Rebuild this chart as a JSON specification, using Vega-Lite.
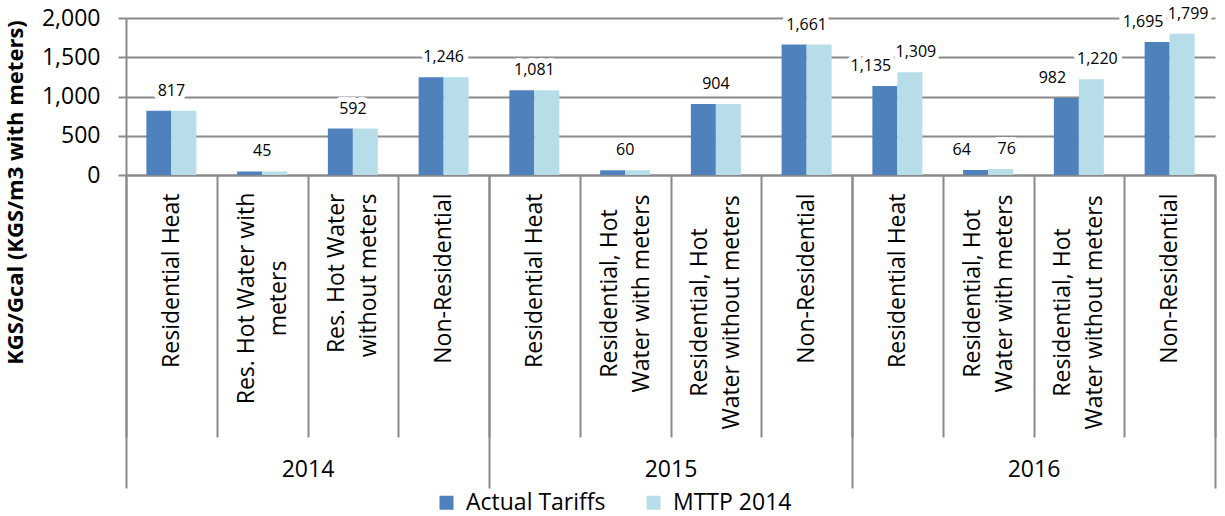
{
  "$schema": "https://vega.github.io/schema/vega-lite/v6.json",
  "width": 1089,
  "height": 157,
  "autosize": {"type": "none"},
  "padding": {"left": 126, "top": 18, "right": 10, "bottom": 341},
  "background": "white",
  "config": {
    "font": "Open Sans",
    "view": {"stroke": null},
    "axis": {"labelFont": "Open Sans", "titleFont": "Open Sans", "labelColor": "black", "titleColor": "black"}
  },
  "data": {
    "values": [
      {"key": "2014|Residential Heat", "year": "2014", "series": "Actual Tariffs", "value": 817},
      {"key": "2014|Residential Heat", "year": "2014", "series": "MTTP 2014", "value": 817},
      {"key": "2014|Res. Hot Water with\nmeters", "year": "2014", "series": "Actual Tariffs", "value": 45},
      {"key": "2014|Res. Hot Water with\nmeters", "year": "2014", "series": "MTTP 2014", "value": 45},
      {"key": "2014|Res. Hot Water\nwithout meters", "year": "2014", "series": "Actual Tariffs", "value": 592},
      {"key": "2014|Res. Hot Water\nwithout meters", "year": "2014", "series": "MTTP 2014", "value": 592},
      {"key": "2014|Non-Residential", "year": "2014", "series": "Actual Tariffs", "value": 1246},
      {"key": "2014|Non-Residential", "year": "2014", "series": "MTTP 2014", "value": 1246},
      {"key": "2015|Residential Heat", "year": "2015", "series": "Actual Tariffs", "value": 1081},
      {"key": "2015|Residential Heat", "year": "2015", "series": "MTTP 2014", "value": 1081},
      {"key": "2015|Residential, Hot\nWater with meters", "year": "2015", "series": "Actual Tariffs", "value": 60},
      {"key": "2015|Residential, Hot\nWater with meters", "year": "2015", "series": "MTTP 2014", "value": 60},
      {"key": "2015|Residential, Hot\nWater without meters", "year": "2015", "series": "Actual Tariffs", "value": 904},
      {"key": "2015|Residential, Hot\nWater without meters", "year": "2015", "series": "MTTP 2014", "value": 904},
      {"key": "2015|Non-Residential", "year": "2015", "series": "Actual Tariffs", "value": 1661},
      {"key": "2015|Non-Residential", "year": "2015", "series": "MTTP 2014", "value": 1661},
      {"key": "2016|Residential Heat", "year": "2016", "series": "Actual Tariffs", "value": 1135},
      {"key": "2016|Residential Heat", "year": "2016", "series": "MTTP 2014", "value": 1309},
      {"key": "2016|Residential, Hot\nWater with meters", "year": "2016", "series": "Actual Tariffs", "value": 64},
      {"key": "2016|Residential, Hot\nWater with meters", "year": "2016", "series": "MTTP 2014", "value": 76},
      {"key": "2016|Residential, Hot\nWater without meters", "year": "2016", "series": "Actual Tariffs", "value": 982},
      {"key": "2016|Residential, Hot\nWater without meters", "year": "2016", "series": "MTTP 2014", "value": 1220},
      {"key": "2016|Non-Residential", "year": "2016", "series": "Actual Tariffs", "value": 1695},
      {"key": "2016|Non-Residential", "year": "2016", "series": "MTTP 2014", "value": 1799}
    ]
  },
  "layer": [
    {
      "encoding": {
        "x": {
          "field": "key",
          "type": "nominal",
          "scale": {
            "domain": [
              "2014|Residential Heat", "2014|Res. Hot Water with\nmeters", "2014|Res. Hot Water\nwithout meters", "2014|Non-Residential",
              "2015|Residential Heat", "2015|Residential, Hot\nWater with meters", "2015|Residential, Hot\nWater without meters", "2015|Non-Residential",
              "2016|Residential Heat", "2016|Residential, Hot\nWater with meters", "2016|Residential, Hot\nWater without meters", "2016|Non-Residential"
            ],
            "paddingInner": 0,
            "paddingOuter": 0
          },
          "axis": {
            "title": null,
            "orient": "bottom",
            "tickBand": "extent",
            "tickSize": 262,
            "tickColor": "#8a8a8a",
            "tickWidth": 2,
            "domainColor": "#8a8a8a",
            "domainWidth": 2,
            "labelAngle": 270,
            "labelAlign": {
              "condition": [
                {"test": "isString(datum.value) && indexof(datum.value, 'with\\nmeters') >= 0", "value": "center"},
                {"test": "isString(datum.value) && indexof(datum.value, 'Water with meters') >= 0", "value": "center"},
                {"test": "isString(datum.value) && indexof(datum.value, 'Water without meters') >= 0", "value": "center"}
              ],
              "value": "right"
            },
            "labelBaseline": "middle",
            "labelPadding": {
              "condition": [
                {"test": "isString(datum.value) && indexof(datum.value, 'with\\nmeters') >= 0", "value": -139},
                {"test": "isString(datum.value) && indexof(datum.value, 'Water with meters') >= 0", "value": -144},
                {"test": "isString(datum.value) && indexof(datum.value, 'Water without meters') >= 0", "value": -125}
              ],
              "value": -244
            },
            "labelOffset": {
              "condition": {"test": "isString(datum.value) && indexof(datum.value, '\\n') >= 0", "value": -16},
              "value": 0
            },
            "labelFontSize": 23,
            "labelLineHeight": 32,
            "labelLimit": 500,
            "labelOverlap": false,
            "labelExpr": "isString(datum.value) ? split(split(datum.value, '|')[1], '\\n') : ''"
          }
        },
        "y": {
          "field": "value",
          "type": "quantitative",
          "scale": {"domain": [0, 2000]},
          "axis": {
            "title": "KGS/Gcal (KGS/m3 with meters)",
            "titleFontSize": 22,
            "titleFontWeight": "bold",
            "titleX": -111,
            "titleY": 174,
            "titleAngle": 270,
            "titleAlign": "center",
            "titleBaseline": "middle",
            "values": [0, 500, 1000, 1500, 2000],
            "format": ",d",
            "labelFontSize": 23,
            "labelPadding": 18,
            "tickSize": 8,
            "tickColor": "#8a8a8a",
            "tickWidth": 2,
            "grid": true,
            "gridColor": "#8a8a8a",
            "gridWidth": 2,
            "domainColor": "#8a8a8a",
            "domainWidth": 2
          }
        }
      },
      "layer": [
        {
          "mark": {"type": "bar"},
          "encoding": {
            "xOffset": {"field": "series", "type": "nominal", "scale": {"paddingOuter": 0.815, "paddingInner": 0}},
            "color": {
              "field": "series",
              "type": "nominal",
              "scale": {"domain": ["Actual Tariffs", "MTTP 2014"], "range": ["#4F81BD", "#B7DEE8"]},
              "legend": {
                "title": null,
                "orient": "none",
                "legendX": 309,
                "legendY": 473,
                "direction": "horizontal",
                "symbolType": "square",
                "symbolSize": 196,
                "symbolStrokeWidth": 0,
                "labelFontSize": 23,
                "labelFont": "Open Sans",
                "labelColor": "black",
                "labelOffset": 8,
                "columnPadding": 36
              }
            }
          }
        },
        {
          "transform": [{"filter": "datum.year != '2016' && datum.series == 'Actual Tariffs'"}],
          "mark": {"type": "text", "dy": -20, "baseline": "middle", "fontSize": 16, "fill": "white", "stroke": "white", "strokeWidth": 10, "strokeJoin": "round"},
          "encoding": {"text": {"field": "value", "type": "quantitative", "format": ","}}
        },
        {
          "transform": [{"filter": "datum.year != '2016' && datum.series == 'Actual Tariffs'"}],
          "mark": {"type": "text", "dy": -20, "baseline": "middle", "fontSize": 16, "fill": "black"},
          "encoding": {"text": {"field": "value", "type": "quantitative", "format": ","}}
        },
        {
          "transform": [{"filter": "datum.year == '2016' && datum.series == 'Actual Tariffs'"}],
          "mark": {"type": "text", "dy": -20, "dx": -14, "baseline": "middle", "fontSize": 16, "fill": "white", "stroke": "white", "strokeWidth": 10, "strokeJoin": "round"},
          "encoding": {"xOffset": {"field": "series", "type": "nominal"}, "text": {"field": "value", "type": "quantitative", "format": ","}}
        },
        {
          "transform": [{"filter": "datum.year == '2016' && datum.series == 'Actual Tariffs'"}],
          "mark": {"type": "text", "dy": -20, "dx": -14, "baseline": "middle", "fontSize": 16, "fill": "black"},
          "encoding": {"xOffset": {"field": "series", "type": "nominal"}, "text": {"field": "value", "type": "quantitative", "format": ","}}
        },
        {
          "transform": [{"filter": "datum.year == '2016' && datum.series == 'MTTP 2014'"}],
          "mark": {"type": "text", "dy": -20, "dx": 6, "baseline": "middle", "fontSize": 16, "fill": "white", "stroke": "white", "strokeWidth": 10, "strokeJoin": "round"},
          "encoding": {"xOffset": {"field": "series", "type": "nominal"}, "text": {"field": "value", "type": "quantitative", "format": ","}}
        },
        {
          "transform": [{"filter": "datum.year == '2016' && datum.series == 'MTTP 2014'"}],
          "mark": {"type": "text", "dy": -20, "dx": 6, "baseline": "middle", "fontSize": 16, "fill": "black"},
          "encoding": {"xOffset": {"field": "series", "type": "nominal"}, "text": {"field": "value", "type": "quantitative", "format": ","}}
        }
      ]
    },
    {
      "mark": {"type": "bar", "opacity": 0},
      "encoding": {
        "x": {
          "field": "year",
          "type": "nominal",
          "scale": {"paddingInner": 0, "paddingOuter": 0},
          "axis": {
            "title": null,
            "orient": "bottom",
            "tickBand": "extent",
            "tickSize": 313,
            "tickColor": "#8a8a8a",
            "tickWidth": 2,
            "domain": false,
            "labelAngle": 0,
            "labelFontSize": 23,
            "labelBaseline": "middle",
            "labelPadding": -19
          }
        }
      }
    }
  ],
  "resolve": {"scale": {"x": "independent"}, "axis": {"x": "independent"}}
}
